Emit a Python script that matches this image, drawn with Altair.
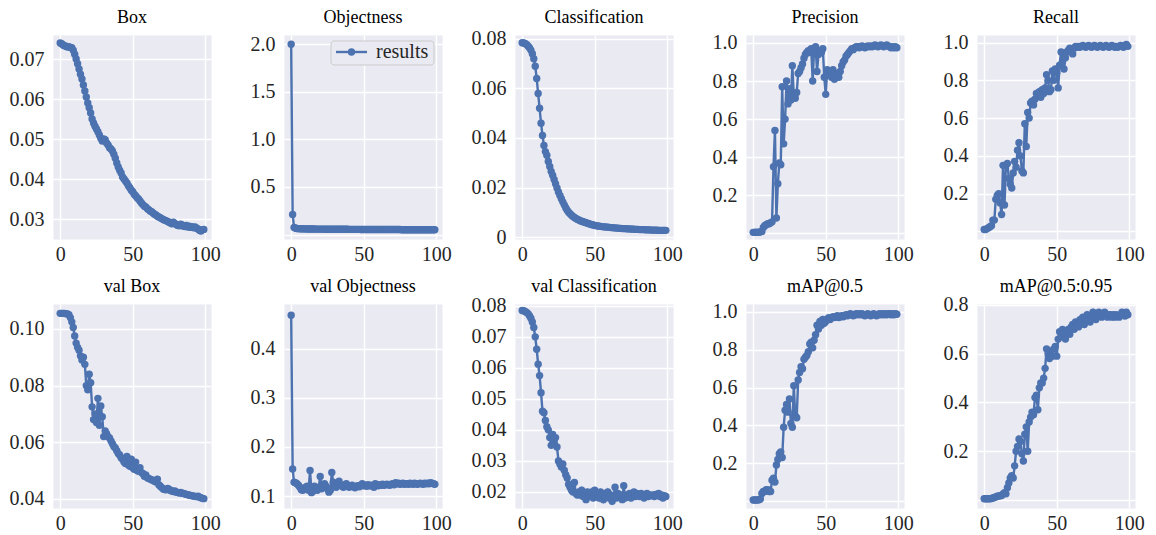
import altair as alt
import pandas as pd

BLUE = "#4C72B0"
BG = "#EAEAF2"
FONT = "Liberation Serif"

epochs = list(range(100))

box = [
0.0740,0.0738,0.0735,0.0733,0.0732,0.0730,0.0731,0.0729,0.0728,0.0722,
0.0712,0.0700,0.0688,0.0675,0.0662,0.0650,0.0635,0.0620,0.0605,0.0590,
0.0578,0.0565,0.0550,0.0540,0.0532,0.0525,0.0518,0.0510,0.0502,0.0495,
0.0500,0.0498,0.0490,0.0485,0.0478,0.0475,0.0470,0.0462,0.0452,0.0440,
0.0430,0.0422,0.0415,0.0405,0.0400,0.0395,0.0390,0.0383,0.0378,0.0372,
0.0368,0.0362,0.0358,0.0353,0.0350,0.0345,0.0340,0.0336,0.0332,0.0330,
0.0326,0.0323,0.0320,0.0318,0.0315,0.0312,0.0310,0.0307,0.0305,0.0303,
0.0301,0.0299,0.0297,0.0296,0.0294,0.0292,0.0290,0.0288,0.0292,0.0289,
0.0286,0.0284,0.0283,0.0287,0.0285,0.0282,0.0281,0.0284,0.0280,0.0282,
0.0279,0.0281,0.0278,0.0280,0.0277,0.0275,0.0272,0.0270,0.0273,0.0274]

obj = [
2.000,0.210,0.075,0.066,0.063,0.062,0.061,0.060,0.060,0.059,
0.059,0.059,0.058,0.058,0.058,0.058,0.058,0.057,0.057,0.057,
0.057,0.057,0.057,0.056,0.056,0.056,0.056,0.056,0.056,0.056,
0.056,0.055,0.055,0.055,0.055,0.055,0.056,0.055,0.055,0.055,
0.054,0.054,0.054,0.054,0.054,0.054,0.054,0.054,0.053,0.053,
0.053,0.053,0.053,0.053,0.053,0.053,0.053,0.053,0.053,0.052,
0.052,0.052,0.052,0.052,0.052,0.052,0.052,0.052,0.052,0.052,
0.052,0.052,0.052,0.052,0.052,0.052,0.051,0.051,0.051,0.051,
0.051,0.051,0.051,0.051,0.051,0.051,0.051,0.051,0.051,0.051,
0.051,0.051,0.051,0.051,0.051,0.051,0.051,0.051,0.051,0.051]

cls = [
0.0785,0.0784,0.0782,0.0778,0.0772,0.0765,0.0755,0.0740,0.0720,0.0690,
0.0640,0.0580,0.0520,0.0460,0.0410,0.0370,0.0345,0.0330,0.0305,0.0285,
0.0265,0.0250,0.0232,0.0215,0.0198,0.0182,0.0168,0.0155,0.0142,0.0130,
0.0118,0.0108,0.0100,0.0094,0.0088,0.0083,0.0079,0.0075,0.0072,0.0069,
0.0066,0.0064,0.0062,0.0060,0.0058,0.0056,0.0054,0.0052,0.0050,0.0049,
0.0047,0.0046,0.0045,0.0044,0.0043,0.0042,0.0041,0.0041,0.0040,0.0040,
0.0039,0.0038,0.0038,0.0037,0.0037,0.0036,0.0036,0.0035,0.0035,0.0034,
0.0034,0.0034,0.0033,0.0033,0.0033,0.0032,0.0032,0.0032,0.0031,0.0031,
0.0031,0.0030,0.0030,0.0030,0.0030,0.0029,0.0029,0.0029,0.0029,0.0028,
0.0028,0.0028,0.0028,0.0028,0.0027,0.0027,0.0027,0.0027,0.0027,0.0027]

prec = [
0.005,0.005,0.006,0.005,0.006,0.007,0.010,0.030,0.040,0.045,
0.050,0.050,0.055,0.060,0.350,0.540,0.080,0.260,0.370,0.360,
0.770,0.470,0.600,0.800,0.680,0.760,0.700,0.880,0.720,0.710,
0.740,0.840,0.850,0.870,0.890,0.920,0.940,0.950,0.960,0.950,
0.970,0.800,0.970,0.980,0.850,0.940,0.960,0.950,0.970,0.820,
0.730,0.860,0.840,0.850,0.820,0.860,0.810,0.830,0.840,0.820,
0.850,0.880,0.900,0.910,0.930,0.940,0.950,0.960,0.970,0.965,
0.975,0.980,0.980,0.975,0.980,0.985,0.980,0.975,0.980,0.985,
0.980,0.985,0.980,0.985,0.990,0.985,0.980,0.985,0.990,0.985,
0.980,0.985,0.990,0.985,0.980,0.975,0.980,0.975,0.980,0.975]

rec = [
0.010,0.010,0.015,0.020,0.025,0.030,0.060,0.060,0.170,0.190,
0.200,0.150,0.090,0.350,0.140,0.350,0.360,0.280,0.250,0.230,
0.310,0.370,0.340,0.430,0.470,0.400,0.320,0.310,0.570,0.450,
0.630,0.600,0.680,0.690,0.670,0.700,0.730,0.720,0.740,0.710,
0.750,0.730,0.760,0.830,0.800,0.740,0.750,0.850,0.800,0.860,
0.840,0.760,0.880,0.950,0.900,0.860,0.920,0.950,0.960,0.970,
0.950,0.940,0.970,0.980,0.975,0.980,0.975,0.980,0.985,0.980,
0.975,0.980,0.985,0.980,0.975,0.980,0.985,0.980,0.975,0.980,
0.985,0.980,0.975,0.980,0.985,0.980,0.975,0.980,0.985,0.980,
0.975,0.980,0.975,0.980,0.985,0.980,0.975,0.985,0.990,0.980]

vbox = [
0.1055,0.1055,0.1055,0.1055,0.1054,0.1053,0.1050,0.1040,0.1025,0.1005,
0.0975,0.0950,0.0935,0.0925,0.0905,0.0890,0.0900,0.0875,0.0800,0.0785,
0.0840,0.0810,0.0725,0.0680,0.0700,0.0670,0.0755,0.0660,0.0728,0.0690,
0.0620,0.0640,0.0630,0.0620,0.0615,0.0605,0.0595,0.0585,0.0580,0.0570,
0.0560,0.0555,0.0545,0.0540,0.0530,0.0525,0.0550,0.0520,0.0515,0.0540,
0.0510,0.0505,0.0530,0.0500,0.0498,0.0510,0.0493,0.0490,0.0480,0.0485,
0.0475,0.0472,0.0470,0.0468,0.0465,0.0462,0.0460,0.0470,0.0450,0.0445,
0.0440,0.0435,0.0433,0.0432,0.0437,0.0434,0.0430,0.0428,0.0426,0.0428,
0.0424,0.0423,0.0421,0.0423,0.0420,0.0419,0.0418,0.0416,0.0415,0.0413,
0.0412,0.0411,0.0410,0.0409,0.0408,0.0410,0.0406,0.0404,0.0402,0.0401]

vobj = [
0.468,0.155,0.128,0.127,0.125,0.122,0.118,0.113,0.112,0.115,
0.118,0.120,0.112,0.152,0.107,0.110,0.120,0.115,0.112,0.118,
0.140,0.115,0.118,0.125,0.120,0.115,0.108,0.112,0.148,0.128,
0.120,0.118,0.125,0.130,0.122,0.120,0.118,0.123,0.125,0.120,
0.118,0.120,0.122,0.119,0.117,0.120,0.121,0.119,0.122,0.125,
0.121,0.122,0.120,0.123,0.121,0.122,0.120,0.118,0.125,0.122,
0.121,0.123,0.122,0.124,0.122,0.123,0.124,0.123,0.122,0.124,
0.125,0.123,0.127,0.125,0.126,0.124,0.125,0.126,0.124,0.125,
0.125,0.124,0.126,0.125,0.124,0.126,0.125,0.124,0.125,0.126,
0.125,0.124,0.126,0.125,0.126,0.125,0.127,0.126,0.125,0.124]

vcls = [
0.0785,0.0784,0.0782,0.0779,0.0775,0.0768,0.0760,0.0748,0.0730,0.0700,
0.0660,0.0612,0.0575,0.0520,0.0460,0.0455,0.0430,0.0410,0.0400,0.0375,
0.0350,0.0385,0.0360,0.0375,0.0345,0.0300,0.0290,0.0280,0.0290,0.0270,
0.0255,0.0245,0.0225,0.0215,0.0205,0.0200,0.0230,0.0195,0.0190,0.0200,
0.0190,0.0205,0.0185,0.0195,0.0175,0.0200,0.0190,0.0185,0.0200,0.0180,
0.0205,0.0185,0.0195,0.0180,0.0200,0.0190,0.0175,0.0195,0.0185,0.0200,
0.0180,0.0190,0.0170,0.0185,0.0215,0.0180,0.0195,0.0185,0.0190,0.0175,
0.0220,0.0180,0.0190,0.0185,0.0195,0.0180,0.0190,0.0200,0.0185,0.0195,
0.0190,0.0185,0.0195,0.0190,0.0180,0.0190,0.0195,0.0185,0.0190,0.0188,
0.0190,0.0185,0.0192,0.0188,0.0195,0.0185,0.0190,0.0180,0.0188,0.0185]

map50 = [
0.005,0.005,0.005,0.005,0.006,0.010,0.040,0.050,0.050,0.060,
0.060,0.050,0.050,0.110,0.120,0.100,0.190,0.220,0.250,0.260,
0.230,0.390,0.480,0.510,0.470,0.540,0.410,0.390,0.610,0.450,
0.440,0.640,0.680,0.710,0.700,0.750,0.760,0.770,0.790,0.830,
0.840,0.810,0.850,0.880,0.930,0.910,0.950,0.930,0.960,0.940,
0.950,0.960,0.970,0.960,0.970,0.975,0.970,0.975,0.980,0.970,
0.975,0.980,0.975,0.980,0.985,0.980,0.985,0.990,0.985,0.980,
0.985,0.990,0.985,0.990,0.985,0.990,0.985,0.980,0.985,0.990,
0.985,0.980,0.985,0.990,0.985,0.980,0.985,0.990,0.985,0.990,
0.985,0.990,0.985,0.990,0.990,0.985,0.990,0.985,0.990,0.988]

map5095 = [
0.005,0.005,0.005,0.005,0.005,0.006,0.008,0.010,0.012,0.015,
0.016,0.017,0.018,0.025,0.030,0.025,0.050,0.070,0.090,0.100,
0.090,0.140,0.200,0.220,0.250,0.240,0.190,0.160,0.270,0.300,
0.200,0.320,0.340,0.360,0.350,0.420,0.430,0.370,0.460,0.480,
0.480,0.500,0.540,0.620,0.600,0.580,0.610,0.590,0.620,0.630,
0.590,0.660,0.690,0.670,0.700,0.680,0.660,0.690,0.700,0.680,
0.710,0.720,0.700,0.730,0.720,0.710,0.740,0.730,0.750,0.720,
0.740,0.760,0.740,0.730,0.750,0.770,0.750,0.740,0.760,0.770,
0.760,0.750,0.760,0.770,0.760,0.750,0.760,0.760,0.750,0.760,
0.750,0.760,0.755,0.750,0.760,0.770,0.760,0.755,0.770,0.760]

titles = ["Box", "Objectness", "Classification", "Precision", "Recall",
          "val Box", "val Objectness", "val Classification", "mAP@0.5", "mAP@0.5:0.95"]
series = [box, obj, cls, prec, rec, vbox, vobj, vcls, map50, map5095]
domains = [
    [0.025, 0.076], [-0.047, 2.097], [-0.0008, 0.0816], [-0.03, 1.042], [-0.04, 1.04],
    [0.0368, 0.1088], [0.0757, 0.491], [0.0148, 0.0806], [-0.037, 1.042], [-0.033, 0.804],
]
ticks = [
    [0.03, 0.04, 0.05, 0.06, 0.07], [0.0, 0.5, 1.0, 1.5, 2.0],
    [0.0, 0.02, 0.04, 0.06, 0.08], [0.0, 0.2, 0.4, 0.6, 0.8, 1.0],
    [0.0, 0.2, 0.4, 0.6, 0.8, 1.0], [0.04, 0.06, 0.08, 0.10],
    [0.1, 0.2, 0.3, 0.4], [0.02, 0.03, 0.04, 0.05, 0.06, 0.07, 0.08],
    [0.0, 0.2, 0.4, 0.6, 0.8, 1.0], [0.0, 0.2, 0.4, 0.6, 0.8],
]
label_exprs = [
    "format(datum.value, '.2f')",
    "datum.value == 0 ? '' : format(datum.value, '.1f')",
    "datum.value == 0 ? '0' : format(datum.value, '.2f')",
    "datum.value == 0 ? '' : format(datum.value, '.1f')",
    "datum.value == 0 ? '' : format(datum.value, '.1f')",
    "format(datum.value, '.2f')",
    "format(datum.value, '.1f')",
    "format(datum.value, '.2f')",
    "datum.value == 0 ? '' : format(datum.value, '.1f')",
    "datum.value == 0 ? '' : format(datum.value, '.1f')",
]
x_ticks = [0, 50, 100]
legend_label = ["results"]

W, H = 158, 204
LABEL_COLOR = "#262626"


def panel(i):
    df = pd.DataFrame({"epoch": epochs, "value": series[i]})
    line = alt.Chart(df).mark_line(
        color=BLUE, strokeWidth=2.4,
        point=alt.OverlayMarkDef(filled=True, size=55, color=BLUE, opacity=1),
    ).encode(
        x=alt.X("epoch:Q",
                scale=alt.Scale(domain=[-4.95, 103.95], nice=False, zero=False),
                axis=alt.Axis(values=x_ticks, title=None, format="d",
                              labelFont=FONT, labelFontSize=20, labelColor=LABEL_COLOR,
                              labelPadding=5)),
        y=alt.Y("value:Q",
                scale=alt.Scale(domain=domains[i], nice=False, zero=False),
                axis=alt.Axis(values=ticks[i], title=None, labelExpr=label_exprs[i],
                              labelFont=FONT, labelFontSize=20, labelColor=LABEL_COLOR,
                              labelPadding=9)),
    )
    tdf = pd.DataFrame({"t": [titles[i]]})
    title = alt.Chart(tdf).mark_text(
        font=FONT, fontSize=18, color="black", align="center", baseline="alphabetic",
    ).encode(x=alt.value(W / 2), y=alt.value(-12), text="t:N")
    layers = [line, title]
    if i == 1:
        ldf = pd.DataFrame({"label": legend_label})
        lb = alt.Chart(ldf)
        frame = lb.mark_rect(fill=BG, stroke="#CCCCCC", strokeWidth=1, cornerRadius=3).encode(
            x=alt.value(47), x2=alt.value(150), y=alt.value(6), y2=alt.value(30))
        sym_line = lb.mark_rule(color=BLUE, strokeWidth=2.4).encode(
            x=alt.value(52), x2=alt.value(83), y=alt.value(17))
        sym_pt = lb.mark_point(filled=True, size=55, color=BLUE, opacity=1).encode(
            x=alt.value(67.5), y=alt.value(17))
        txt = lb.mark_text(align="left", baseline="middle", font=FONT, fontSize=20,
                           color=LABEL_COLOR).encode(
            x=alt.value(92), y=alt.value(17), text="label:N")
        layers += [frame, sym_line, sym_pt, txt]
    return alt.layer(*layers).properties(width=W, height=H)


chart = alt.concat(
    *[panel(i) for i in range(10)],
    columns=5,
    spacing={"row": 65, "column": 73},
    bounds="flush",
).properties(
    padding=0,
).configure_view(
    fill=BG, stroke="transparent",
).configure_axis(
    labelFont=FONT, labelFontSize=20, labelColor=LABEL_COLOR,
    domain=False, ticks=False, grid=True, gridColor="white", gridWidth=1.4,
)

chart.save("out.html", embed_options={"renderer": "svg", "actions": False})
